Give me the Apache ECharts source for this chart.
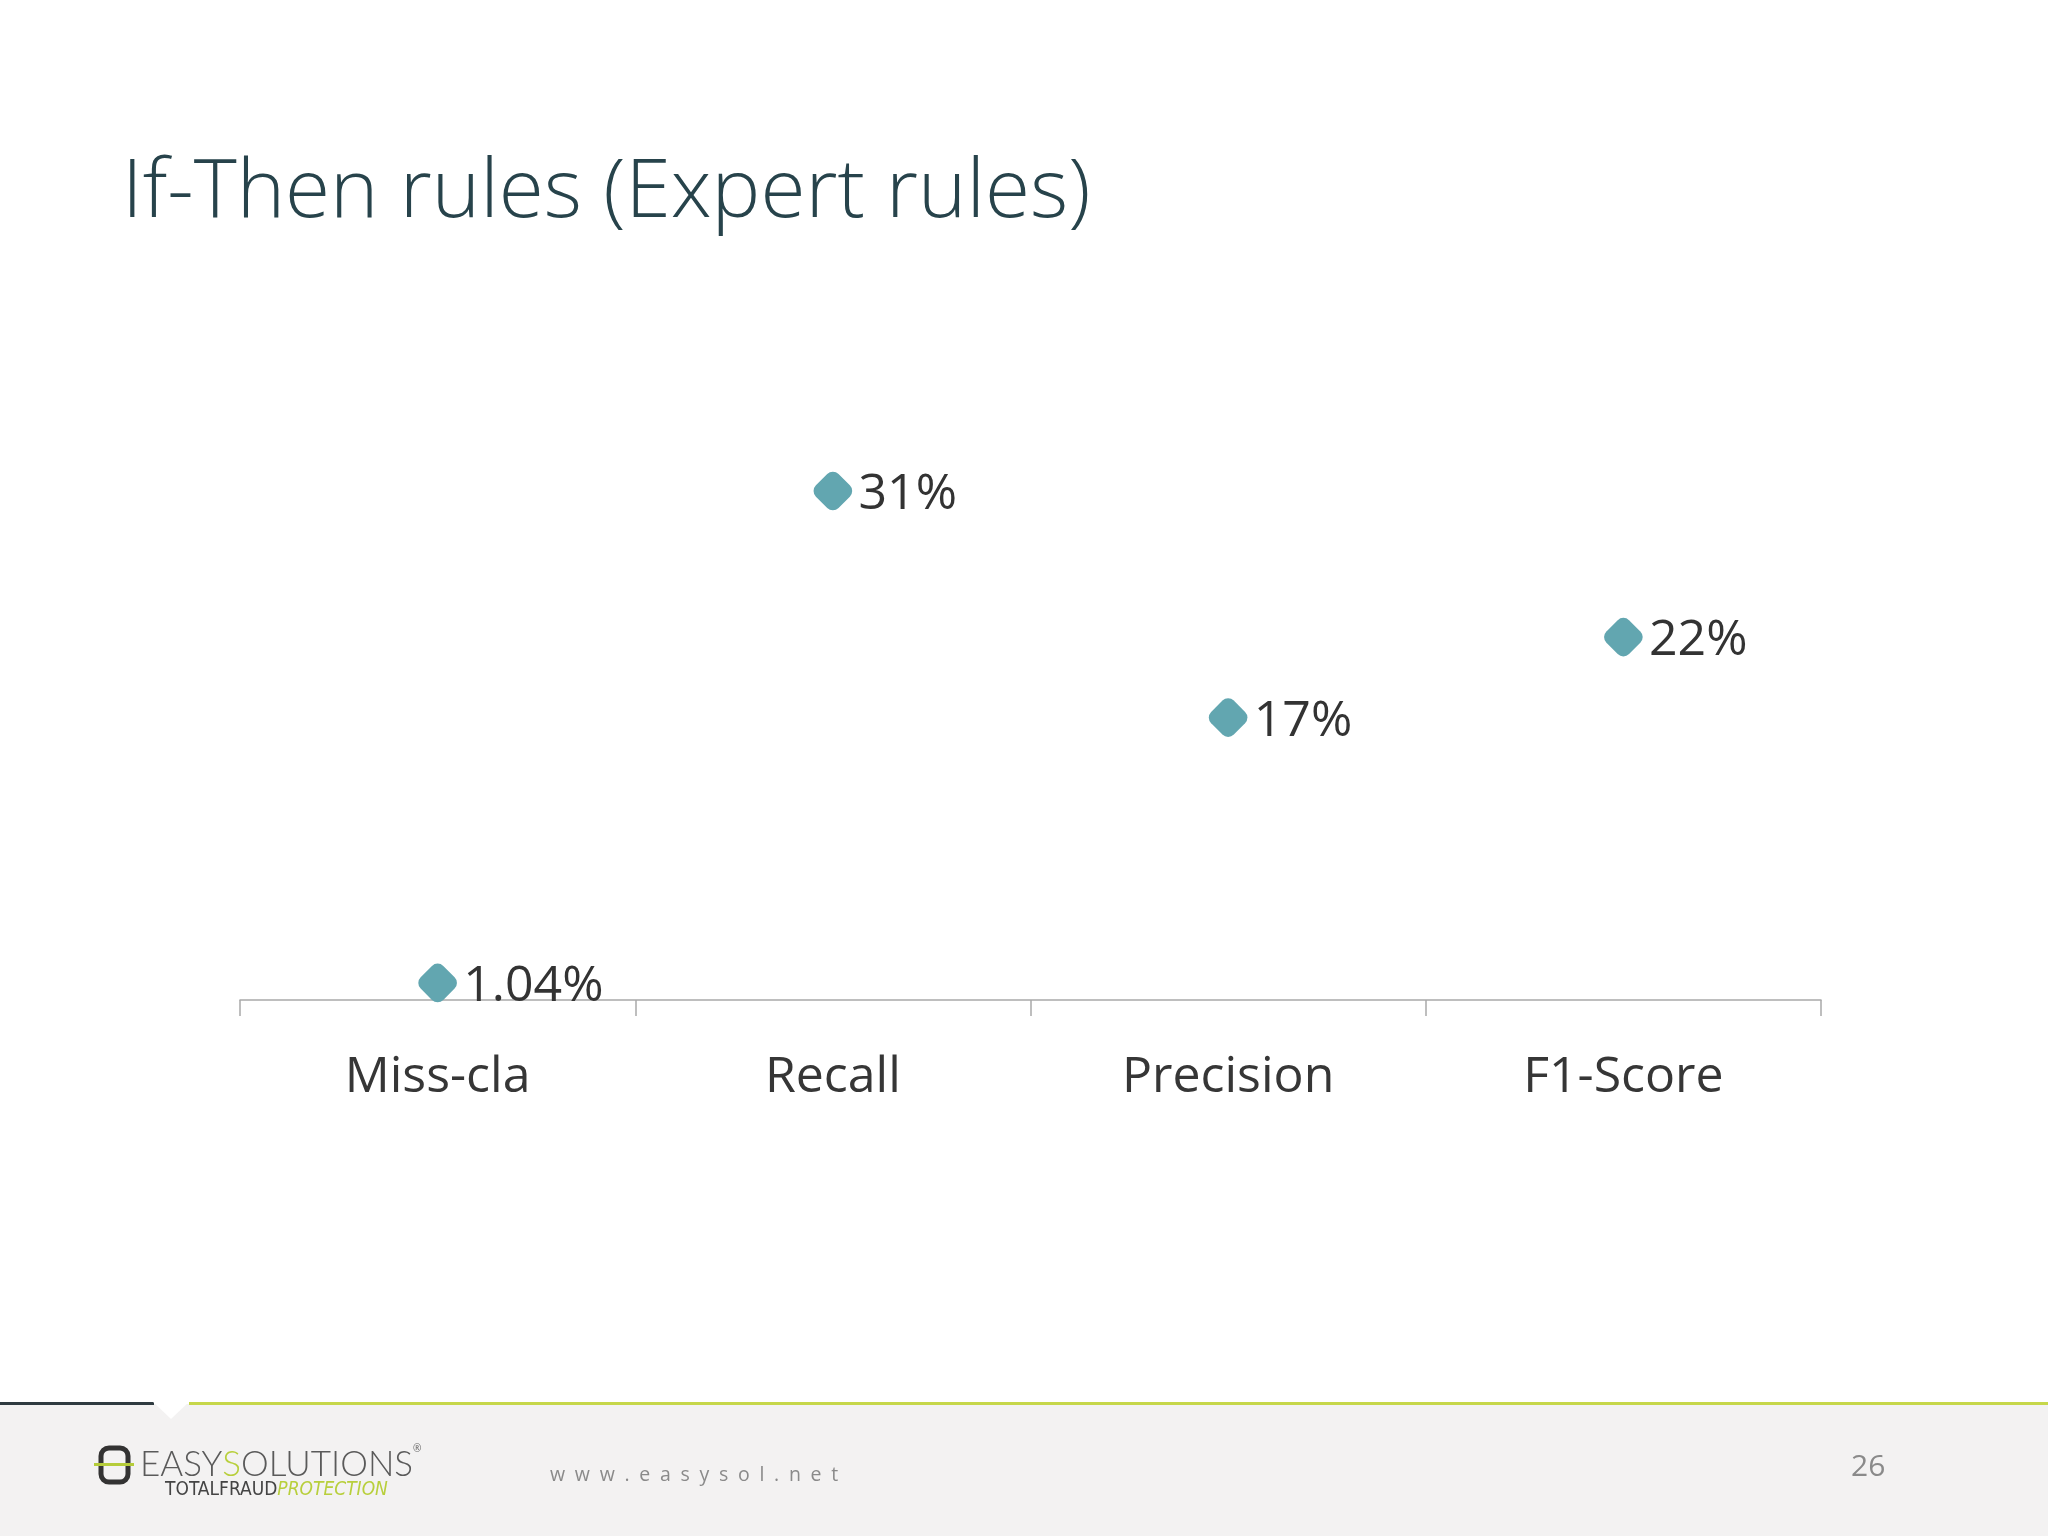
<!DOCTYPE html>
<html>
<head>
<meta charset="utf-8">
<script src="https://cdn.jsdelivr.net/npm/echarts@6/dist/echarts.min.js"></script>
<style>
  html, body { margin: 0; padding: 0; background: #ffffff; }
  #chart { width: 2048px; height: 1536px; }
</style>
</head>
<body>
<div id="chart"></div>
<script>
// ---- data ----
const titleText = 'If-Then rules (Expert rules)';
const categories = ['Miss-cla', 'Recall', 'Precision', 'F1-Score'];
const metricValues = [0.0104, 0.31, 0.172, 0.221];
const pageNumber = '26';
const siteText = 'www.easysol.net';

const chart = echarts.init(document.getElementById('chart'), null, { renderer: 'canvas' });

function fmt(v) {
  return v < 0.1 ? (v * 100).toFixed(2) + '%' : Math.round(v * 100) + '%';
}

const option = {
  backgroundColor: '#ffffff',
  animation: false,
  title: {
    text: titleText,
    left: 117,
    top: 148,
    textStyle: {
      fontFamily: 'Open Sans',
      fontWeight: 300,
      fontSize: 82,
      color: '#27434b'
    }
  },
  grid: { left: 240, right: 227, top: 179, bottom: 536 },
  xAxis: {
    type: 'category',
    data: categories,
    boundaryGap: true,
    axisLine: { lineStyle: { color: '#a9a9a9', width: 1.5 } },
    axisTick: { show: true, length: 16, lineStyle: { color: '#a9a9a9', width: 1.5 } },
    axisLabel: {
      margin: 53,
      fontFamily: 'Open Sans',
      fontSize: 50,
      color: '#363636'
    },
    splitLine: { show: false }
  },
  yAxis: {
    type: 'value',
    min: 0,
    max: 0.5,
    show: false,
    splitLine: { show: false }
  },
  series: [{
    type: 'scatter',
    data: metricValues,
    symbol: 'roundRect',
    symbolSize: 32,
    symbolRotate: 45,
    itemStyle: { color: '#62a6b0', opacity: 1 },
    label: {
      show: true,
      position: 'right',
      distance: 3,
      offset: [0, 4],
      fontFamily: 'Open Sans',
      fontSize: 50,
      color: '#333333',
      formatter: p => fmt(p.value)
    },
    emphasis: { disabled: true },
    z: 5
  }],
  graphic: [
    // footer band
    { type: 'rect', shape: { x: 0, y: 1404, width: 2048, height: 132 }, style: { fill: '#f3f2f2' }, z: 1 },
    // dark line segment
    { type: 'rect', shape: { x: 0, y: 1402, width: 154, height: 3 }, style: { fill: '#2f3b40' }, z: 2 },
    // green line
    { type: 'rect', shape: { x: 189, y: 1402, width: 1859, height: 3 }, style: { fill: '#c6d74a' }, z: 2 },
    // white notch
    { type: 'polygon', shape: { points: [[152, 1401], [190, 1401], [171, 1419]] }, style: { fill: '#ffffff' }, z: 3 },
    // logo icon
    { type: 'rect', shape: { x: 101, y: 1448, width: 27, height: 34, r: 8 }, style: { fill: 'none', stroke: '#333333', lineWidth: 5 }, z: 3 },
    { type: 'rect', shape: { x: 94, y: 1463, width: 40, height: 3 }, style: { fill: '#b5cc3a' }, z: 4 },
    // logo text
    {
      type: 'text', left: 140, top: 1447, z: 3,
      style: {
        text: '{g|EASY}{s|S}{g|OLUTIONS}',
        rich: {
          g: { fontFamily: 'Lato', fontWeight: 300, fontSize: 35, fill: '#5a5a5a' },
          s: { fontFamily: 'Lato', fontWeight: 300, fontSize: 35, fill: '#b8cf3c' }
        }
      }
    },
    { type: 'text', left: 413, top: 1444, z: 3, style: { text: '®', fontSize: 10, fill: '#666666', fontFamily: 'Open Sans' } },
    {
      type: 'text', left: 165, top: 1481, z: 3,
      style: {
        text: '{d|TOTALFRAUD}{p|PROTECTION}',
        rich: {
          d: { fontFamily: 'Liberation Sans Narrow, DejaVu Sans Condensed, Roboto', fontSize: 19, fill: '#444444' },
          p: { fontFamily: 'Liberation Sans Narrow, DejaVu Sans Condensed, Roboto', fontStyle: 'italic', fontSize: 19, fill: '#b8cf3c' }
        }
      }
    },
    // website
    {
      type: 'text', left: 550, top: 1465, z: 3,
      style: {
        text: siteText.split('').join('\u2009\u2009\u2009'),
        fontFamily: 'Open Sans', fontSize: 19.5, fill: '#8a8a8a'
      }
    },
    // page number
    {
      type: 'text', left: 1851, top: 1452, z: 3,
      style: { text: pageNumber, fontFamily: 'Open Sans', fontSize: 30, fill: '#8a8a8a' }
    }
  ]
};

chart.setOption(option);
</script>
</body>
</html>
